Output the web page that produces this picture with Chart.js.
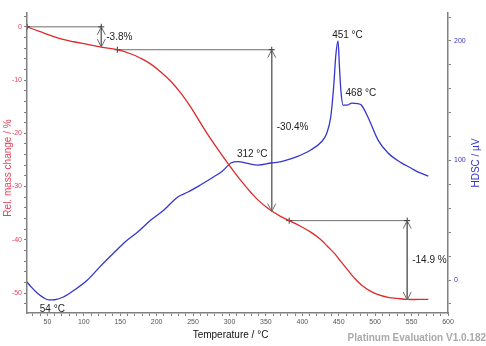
<!DOCTYPE html>
<html>
<head>
<meta charset="utf-8">
<script src="https://cdn.jsdelivr.net/npm/chart.js@4.4.1/dist/chart.umd.min.js"></script>
<style>
  html, body { margin: 0; padding: 0; background: #fff; }
  #wrap { width: 486px; height: 346px; }
</style>
</head>
<body>
<div id="wrap"><canvas id="tgCanvas" width="486" height="346"></canvas></div>
<script>
// TG curve (rel. mass change, %) vs temperature
var tgTemp = [22, 40, 54, 70, 86, 105, 124, 146, 165, 178, 192, 205, 220, 233, 245, 256, 265, 274, 287, 299,
  310, 320, 330, 339, 350, 358, 370, 382, 397, 412, 424, 435, 445, 453, 462, 471, 482, 494, 506, 518, 530, 544, 560, 573];
var tgMass = [0, -0.9, -1.6, -2.3, -2.8, -3.3, -3.8, -4.3, -5.1, -5.9, -7.0, -8.4, -10.3, -12.4, -14.7, -17.1, -19.1, -21.0, -23.6, -25.9,
  -27.9, -29.6, -31.2, -32.5, -33.8, -34.6, -35.6, -36.4, -37.4, -38.6, -39.8, -41.3, -42.7, -44.1, -45.6, -47.1, -48.6, -49.7, -50.4, -50.8, -51.0, -51.2, -51.2, -51.2];

// HDSC curve (µV) vs temperature
var dscTemp = [22, 28, 36, 44, 52, 60, 72, 88, 105, 122, 141, 157, 174, 192, 210, 229, 243, 260, 278, 290,
  302, 312, 325, 339, 357, 371, 385, 398, 412, 426, 433, 439, 443, 446, 449, 451, 453, 456, 462, 468, 476, 481, 490, 504, 518, 536, 549, 560, 573];
var dscSignal = [-1.7, -6, -10.9, -14.5, -16.7, -16.5, -14.2, -8, 0, 11, 22.6, 32, 40.2, 50.2, 58.6, 69.5, 73.6, 79.5, 86.2, 91,
  97.9, 99, 97.5, 96.2, 97.9, 99, 101.5, 104.6, 109, 115.5, 122, 136.4, 161.5, 188, 200, 178, 158, 146.4, 146.4, 148, 147.5, 146.4, 136.4, 117, 106, 98, 93.7, 90, 87];

// mass loss steps: horizontal line from start, then vertical arrow of size delta
var stepStartT = [22, 146, 382];
var stepStartY = [0, -4.3, -36.4];
var stepEndT = [124, 358, 544];
var stepDelta = [-3.8, -30.4, -14.9];
var stepLabels = ['-3.8%', '-30.4%', '-14.9 %'];

// DSC peak labels
var peakTemp = [54, 312, 451, 468];
var peakSignal = [-16.7, 99, 200, 148];
var peakLabels = ['54 °C', '312 °C', '451 °C', '468 °C'];
var peakDx = [2, 14, 8, 9];
var peakDy = [9, -7, -6, -10];

var xTicksMain = 50;
var yTicksMain = 10;
var y1TicksMain = 100;

var FONT = "'Liberation Sans', Arial, sans-serif";
var RED = '#dd2a2a';
var BLUE = '#3535cc';
var GREY = '#6e6e6e';

function toXY(xs, ys) {
  var out = [];
  for (var i = 0; i < xs.length; i++) {
    out.push({x: xs[i], y: ys[i]});
  }
  return out;
}

var datasets = [
  {
    label: 'TG',
    data: toXY(tgTemp, tgMass),
    yAxisID: 'y',
    borderColor: RED,
    borderWidth: 1.3,
    pointRadius: 0,
    tension: 0.4
  },
  {
    label: 'HDSC',
    data: toXY(dscTemp, dscSignal),
    yAxisID: 'y1',
    borderColor: BLUE,
    borderWidth: 1.3,
    pointRadius: 0,
    cubicInterpolationMode: 'monotone'
  }
];

// step annotation lines go through the same scales
for (var s = 0; s < stepStartT.length; s++) {
  datasets.push({
    label: 'step' + s,
    data: [
      {x: stepStartT[s], y: stepStartY[s]},
      {x: stepEndT[s], y: stepStartY[s]},
      {x: stepEndT[s], y: stepStartY[s] + stepDelta[s]}
    ],
    yAxisID: 'y',
    borderColor: GREY,
    borderWidth: 1,
    tension: 0,
    pointStyle: 'cross',
    pointRadius: [3, 3, 0],
    pointBorderColor: '#333',
    pointBorderWidth: 1
  });
}

function drawArrowHead(ctx, px, py, dir) {
  ctx.beginPath();
  ctx.moveTo(px - 4, py - dir * 8);
  ctx.lineTo(px, py);
  ctx.lineTo(px + 4, py - dir * 8);
  ctx.stroke();
}

var overlay = {
  id: 'overlay',
  afterDatasetsDraw: function(chart) {
    var ctx = chart.ctx;
    var xs = chart.scales.x, yl = chart.scales.y, yr = chart.scales.y1;
    var area = chart.chartArea;
    ctx.save();

    // arrows + step labels
    ctx.strokeStyle = GREY;
    ctx.lineWidth = 1;
    ctx.fillStyle = '#222';
    ctx.font = '10px ' + FONT;
    ctx.textAlign = 'left';
    ctx.textBaseline = 'middle';
    for (var i = 0; i < stepEndT.length; i++) {
      var px = xs.getPixelForValue(stepEndT[i]);
      var top = yl.getPixelForValue(stepStartY[i]);
      var bot = yl.getPixelForValue(stepStartY[i] + stepDelta[i]);
      drawArrowHead(ctx, px, top, -1);
      drawArrowHead(ctx, px, bot, 1);
      ctx.fillText(stepLabels[i], px + 5, (top + bot) / 2 + (i == 1 ? -3 : 0));
    }

    // peak labels
    ctx.textAlign = 'center';
    for (var j = 0; j < peakTemp.length; j++) {
      ctx.fillText(peakLabels[j], xs.getPixelForValue(peakTemp[j]) + peakDx[j], yr.getPixelForValue(peakSignal[j]) + peakDy[j]);
    }

    // axis titles
    ctx.font = '10px ' + FONT;
    ctx.fillStyle = '#111';
    ctx.fillText('Temperature / °C', (area.left + area.right) / 2 - 7, 335);

    ctx.save();
    ctx.translate(8, (area.top + area.bottom) / 2 + 5);
    ctx.rotate(-Math.PI / 2);
    ctx.fillStyle = '#e8405a';
    ctx.fillText('Rel. mass change / %', 0, 0);
    ctx.restore();

    ctx.save();
    ctx.translate(476, (area.top + area.bottom) / 2);
    ctx.rotate(-Math.PI / 2);
    ctx.fillStyle = BLUE;
    ctx.fillText('HDSC / µV', 0, 0);
    ctx.restore();

    // watermark
    ctx.font = 'bold 10px ' + FONT;
    ctx.fillStyle = '#a9a9a9';
    ctx.textAlign = 'right';
    ctx.fillText('Platinum Evaluation V1.0.182', 486, 338);

    ctx.restore();
  }
};

var axisGrid = {
  drawOnChartArea: false,
  drawTicks: true,
  tickLength: 3,
  color: '#808080'
};

var ctx = document.getElementById('tgCanvas').getContext('2d');
var tgChart = new Chart(ctx, {
  type: 'line',
  data: {datasets: datasets},
  options: {
    responsive: false,
    animation: false,
    layout: {padding: {top: 13, left: 0, right: 0, bottom: 0}},
    plugins: {
      legend: {display: false},
      tooltip: {enabled: false}
    },
    scales: {
      x: {
        type: 'linear',
        min: 22,
        max: 600,
        grid: axisGrid,
        border: {display: true, color: '#808080', width: 1.5},
        afterFit: function(scale) { scale.height = 33; },
        ticks: {
          stepSize: 10,
          includeBounds: false,
          autoSkip: false,
          maxRotation: 0,
          padding: 2,
          color: '#555',
          font: {family: FONT, size: 7},
          callback: function(v) { return v % xTicksMain === 0 ? String(v) : ''; }
        }
      },
      y: {
        type: 'linear',
        position: 'left',
        min: -53.75,
        max: 2.6,
        grid: axisGrid,
        border: {display: true, color: '#808080', width: 1.5},
        afterFit: function(scale) { scale.width = 27; },
        ticks: {
          stepSize: 2,
          includeBounds: false,
          autoSkip: false,
          padding: 2,
          color: '#e8405a',
          font: {family: FONT, size: 7},
          callback: function(v) { return v % yTicksMain === 0 ? String(v) : ''; }
        }
      },
      y1: {
        type: 'linear',
        position: 'right',
        min: -27.6,
        max: 223.4,
        grid: axisGrid,
        border: {display: true, color: '#808080', width: 1.5},
        afterFit: function(scale) { scale.width = 38; },
        ticks: {
          stepSize: 20,
          includeBounds: false,
          autoSkip: false,
          padding: 3,
          color: BLUE,
          font: {family: FONT, size: 7},
          callback: function(v) { return v % y1TicksMain === 0 ? String(v) : ''; }
        }
      }
    }
  },
  plugins: [overlay]
});
</script>
</body>
</html>
